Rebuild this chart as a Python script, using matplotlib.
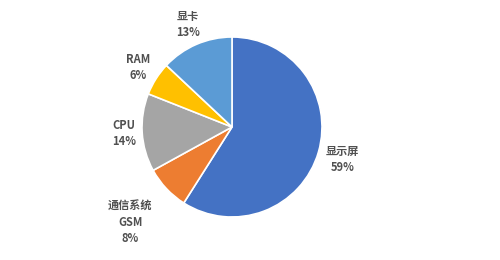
import matplotlib
matplotlib.use("Agg")
import matplotlib.pyplot as plt
import numpy as np

plt.rcParams['font.family'] = ['Noto Sans CJK SC', 'DejaVu Sans']

categories = ['显示屏', '通信系统\nGSM', 'CPU', 'RAM', '显卡']
values = [59, 8, 14, 6, 13]
colors = ['#4472C4', '#ED7D31', '#A5A5A5', '#FFC000', '#5B9BD5']
label_dist = [1.28, 1.55, 1.2, 1.23, 1.24]

fig = plt.figure(figsize=(5, 2.6), dpi=100)
cx, cy, r = 232, 127, 90
ax = fig.add_axes([(cx - r) / 500, (260 - cy - r) / 260, 2 * r / 500, 2 * r / 260])
wedges, _ = ax.pie(values, colors=colors, startangle=90, counterclock=False,
                   wedgeprops=dict(edgecolor='white', linewidth=1.2))
ax.set_xlim(-1, 1)
ax.set_ylim(-1, 1)
ax.set_aspect('equal')

for w, cat, v, d in zip(wedges, categories, values, label_dist):
    ang = np.deg2rad((w.theta1 + w.theta2) / 2)
    ax.text(d * np.cos(ang), d * np.sin(ang), f"{cat}\n{v}%", ha='center', va='center',
            fontsize=8, color='#505050', fontweight='bold', linespacing=1.3, clip_on=False)

fig.savefig('out.png', dpi=100, facecolor='white')
